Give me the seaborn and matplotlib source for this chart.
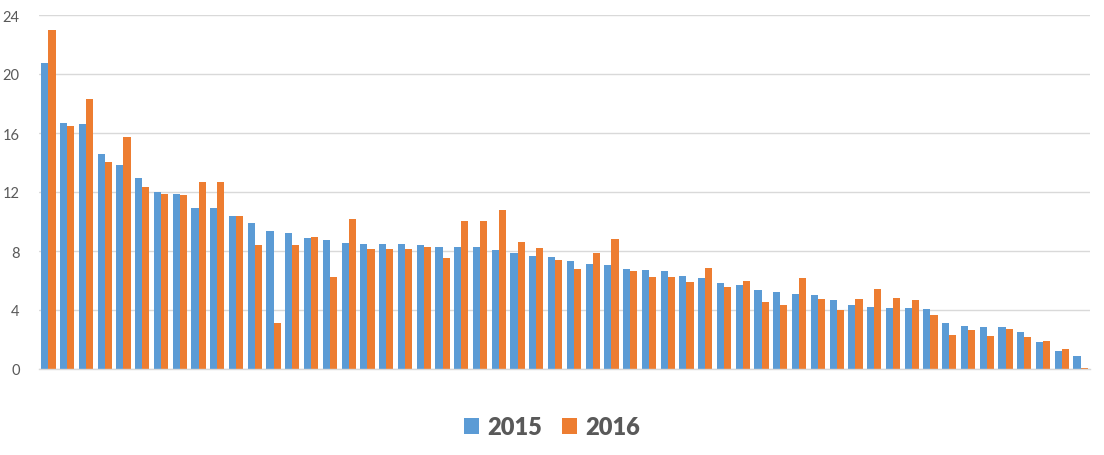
import matplotlib
matplotlib.use("Agg")
import matplotlib.pyplot as plt
import seaborn as sns
import pandas as pd

categories = [str(i) for i in range(1, 57)]
values_2015 = [20.75, 16.68, 16.61, 14.58, 13.83, 12.95, 12.0, 11.86, 10.92, 10.92,
               10.37, 9.9, 9.36, 9.22, 8.88, 8.75, 8.54, 8.47, 8.47, 8.47,
               8.41, 8.27, 8.27, 8.27, 8.07, 7.86, 7.66, 7.59, 7.32, 7.12,
               7.05, 6.78, 6.71, 6.64, 6.31, 6.17, 5.83, 5.69, 5.36, 5.22,
               5.08, 5.02, 4.68, 4.34, 4.2, 4.14, 4.14, 4.07, 3.12, 2.92,
               2.85, 2.85, 2.51, 1.83, 1.22, 0.88]
values_2016 = [22.98, 16.47, 18.31, 14.03, 15.73, 12.34, 11.86, 11.8, 12.68, 12.68,
               10.37, 8.41, 3.12, 8.41, 8.95, 6.24, 10.17, 8.14, 8.14, 8.14,
               8.27, 7.53, 10.03, 10.03, 10.78, 8.61, 8.2, 7.39, 6.78, 7.86,
               8.81, 6.64, 6.24, 6.24, 5.9, 6.85, 5.56, 5.97, 4.54, 4.34,
               6.17, 4.75, 4.0, 4.75, 5.42, 4.81, 4.68, 3.66, 2.31, 2.64,
               2.24, 2.71, 2.17, 1.9, 1.36, 0.07]
series_names = ["2015", "2016"]
y_ticks = [0, 4, 8, 12, 16, 20, 24]

df = pd.DataFrame({
    "category": categories * 2,
    "value": values_2015 + values_2016,
    "year": [series_names[0]] * len(categories) + [series_names[1]] * len(categories),
})

sns.set_theme(style="white")
plt.rcParams['font.family'] = ['Lato', 'DejaVu Sans']

fig = plt.figure(figsize=(11.04, 4.56), dpi=100)
ax = fig.add_axes([39 / 1104, 1 - 370 / 456, (1090 - 39) / 1104, (370 - 16) / 456])

sns.barplot(data=df, x="category", y="value", hue="year", order=categories,
            hue_order=series_names, palette=["#5B9BD5", "#ED7D31"],
            width=0.76, saturation=1, errorbar=None, ax=ax, linewidth=0)

ax.set_ylim(0, 24)
ax.set_yticks(y_ticks)
ax.set_yticklabels([str(t) for t in y_ticks], color="#595959", fontsize=10.5)
ax.tick_params(axis="y", length=0, pad=14)
ax.set_xticks([])
ax.set_xlabel("")
ax.set_ylabel("")
ax.grid(axis="y", color="#d9d9d9", linewidth=1)
ax.set_axisbelow(True)
for s in ["top", "right", "left"]:
    ax.spines[s].set_visible(False)
ax.spines["bottom"].set_color("#d9d9d9")
ax.spines["bottom"].set_linewidth(1)

handles, labels = ax.get_legend_handles_labels()
if ax.legend_:
    ax.legend_.remove()
leg = fig.legend(handles, labels, loc="center", bbox_to_anchor=(0.5, 1 - 428 / 456),
                 ncol=2, frameon=False, handlelength=0.65, handleheight=0.65,
                 handletextpad=0.35, columnspacing=0.85,
                 prop={"size": 17, "weight": "heavy"})
for t in leg.get_texts():
    t.set_color("#595959")

fig.savefig("out.png", dpi=100)
